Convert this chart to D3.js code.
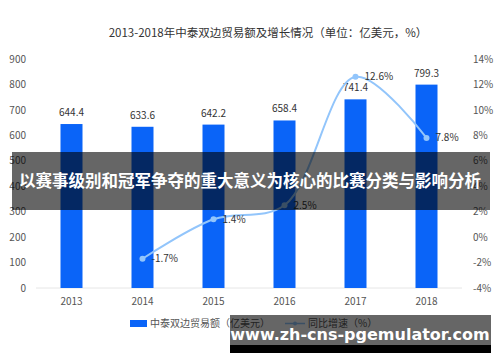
<!DOCTYPE html>
<html>
<head>
<meta charset="utf-8">
<script src="https://cdn.jsdelivr.net/npm/d3@7"></script>
<style>
  html, body { margin: 0; padding: 0; background: #fff; }
  svg { display: block; }
</style>
</head>
<body>
<div class="chart"></div>
<script>
const years = ["2013", "2014", "2015", "2016", "2017", "2018"];
const tradeValues = [644.4, 633.6, 642.2, 658.4, 741.4, 799.3];
const growthYears = ["2014", "2015", "2016", "2017", "2018"];
const growthRates = [-1.7, 1.4, 2.5, 12.6, 7.8];
const leftTicks = [0, 100, 200, 300, 400, 500, 600, 700, 800, 900];
const rightTicks = [-4, -2, 0, 2, 4, 6, 8, 10, 12, 14];
const titleText = "2013-2018年中泰双边贸易额及增长情况（单位：亿美元，%）";
const legendBar = "中泰双边贸易额（亿美元）";
const legendLine = "同比增速（%）";
const bannerText = "以赛事级别和冠军争夺的重大意义为核心的比赛分类与影响分析";
const siteText = "www.zh-cns-pgemulator.com";

const W = 500, H = 362;
const barColor = "#0a64f8";
const lineColor = "#92c5fb";
const textColor = "#555";
const cjk = "'Noto Sans CJK SC', 'Noto Sans', sans-serif";

const svg = d3.select("div.chart")
  .append("svg")
  .attr("width", W)
  .attr("height", H)
  .style("background-color", "#fff");

const x = d3.scaleBand().domain(years).range([36, 462]);
const yL = d3.scaleLinear().domain([0, 900]).range([288, 59]);
const yR = d3.scaleLinear().domain([-4, 14]).range([288, 59]);
const barW = 22;

// title
svg.append("text")
  .attr("x", 268)
  .attr("y", 37)
  .attr("text-anchor", "middle")
  .attr("font-family", cjk)
  .attr("font-size", 11.5)
  .attr("fill", "#333")
  .text(titleText);

// baseline
svg.append("line")
  .attr("x1", 36).attr("x2", 462)
  .attr("y1", yL(0)).attr("y2", yL(0))
  .attr("stroke", "#e6e6e6");

// left axis
svg.append("g")
  .attr("transform", "translate(30,0)")
  .call(d3.axisLeft(yL).tickValues(leftTicks).tickSize(0).tickPadding(4))
  .call(g => g.select(".domain").remove())
  .call(g => g.selectAll("text")
    .attr("font-family", cjk).attr("font-size", 10).attr("fill", textColor));

// right axis
svg.append("g")
  .attr("transform", "translate(469,0)")
  .call(d3.axisRight(yR).tickValues(rightTicks).tickSize(0).tickPadding(4)
    .tickFormat(d => d + "%"))
  .call(g => g.select(".domain").remove())
  .call(g => g.selectAll("text")
    .attr("font-family", cjk).attr("font-size", 10).attr("fill", textColor));

// x axis
svg.append("g")
  .attr("transform", "translate(0,288)")
  .call(d3.axisBottom(x).tickSize(0).tickPadding(10))
  .call(g => g.select(".domain").remove())
  .call(g => g.selectAll("text")
    .attr("font-family", cjk).attr("font-size", 10).attr("fill", textColor));

// bars
const bars = years.map((y, i) => ({ year: y, value: tradeValues[i] }));
svg.append("g")
  .selectAll("rect")
  .data(bars)
  .join("rect")
  .attr("x", d => x(d.year) + x.bandwidth() / 2 - barW / 2)
  .attr("y", d => yL(d.value))
  .attr("width", barW)
  .attr("height", d => yL(0) - yL(d.value))
  .attr("fill", barColor);

svg.append("g")
  .attr("font-family", cjk)
  .attr("font-size", 10)
  .attr("fill", "#333")
  .attr("text-anchor", "middle")
  .selectAll("text")
  .data(bars)
  .join("text")
  .attr("x", d => x(d.year) + x.bandwidth() / 2)
  .attr("y", d => yL(d.value) - 8)
  .text(d => d.value.toFixed(1));

// growth line
const pts = growthYears.map((y, i) => ({ year: y, value: growthRates[i] }));
const line = d3.line()
  .x(d => x(d.year) + x.bandwidth() / 2)
  .y(d => yR(d.value))
  .curve(d3.curveCatmullRom.alpha(0.5));

svg.append("path")
  .datum(pts)
  .attr("fill", "none")
  .attr("stroke", lineColor)
  .attr("stroke-width", 2)
  .attr("d", line);

svg.append("g")
  .selectAll("circle")
  .data(pts)
  .join("circle")
  .attr("cx", d => x(d.year) + x.bandwidth() / 2)
  .attr("cy", d => yR(d.value))
  .attr("r", 3)
  .attr("fill", lineColor);

svg.append("g")
  .attr("font-family", cjk)
  .attr("font-size", 10)
  .attr("fill", "#333")
  .selectAll("text")
  .data(pts)
  .join("text")
  .attr("x", d => x(d.year) + x.bandwidth() / 2 + 9)
  .attr("y", d => yR(d.value))
  .attr("dy", "0.35em")
  .text(d => d.value.toFixed(1) + "%");

// legend
const legend = svg.append("g")
  .attr("font-family", cjk)
  .attr("font-size", 10)
  .attr("fill", textColor);
legend.append("rect")
  .attr("x", 130).attr("y", 320).attr("width", 17).attr("height", 7)
  .attr("fill", barColor);
legend.append("text")
  .attr("x", 150).attr("y", 327).text(legendBar);
legend.append("line")
  .attr("x1", 285).attr("x2", 305).attr("y1", 323.5).attr("y2", 323.5)
  .attr("stroke", lineColor).attr("stroke-width", 1.5);
legend.append("circle")
  .attr("cx", 295).attr("cy", 323.5).attr("r", 2)
  .attr("fill", lineColor);
legend.append("text")
  .attr("x", 308).attr("y", 327).text(legendLine);

// overlay banner
svg.append("rect")
  .attr("x", 12).attr("y", 152).attr("width", 478).attr("height", 58)
  .attr("fill", "rgba(0,0,0,0.6)");
svg.append("text")
  .attr("x", 250).attr("y", 187)
  .attr("text-anchor", "middle")
  .attr("font-family", cjk)
  .attr("font-weight", "bold")
  .attr("font-size", 16.5)
  .attr("fill", "#fff")
  .text(bannerText);

// site banner
svg.append("rect")
  .attr("x", 230).attr("y", 315).attr("width", 261).attr("height", 30)
  .attr("fill", "rgba(0,0,0,0.6)");
svg.append("rect")
  .attr("x", 230).attr("y", 345).attr("width", 261).attr("height", 8)
  .attr("fill", "#000");
svg.append("text")
  .attr("x", 360).attr("y", 340)
  .attr("text-anchor", "middle")
  .attr("font-family", "'DejaVu Sans', sans-serif")
  .attr("font-weight", "bold")
  .attr("font-size", 16)
  .attr("fill", "#fff")
  .text(siteText);
</script>
</body>
</html>
